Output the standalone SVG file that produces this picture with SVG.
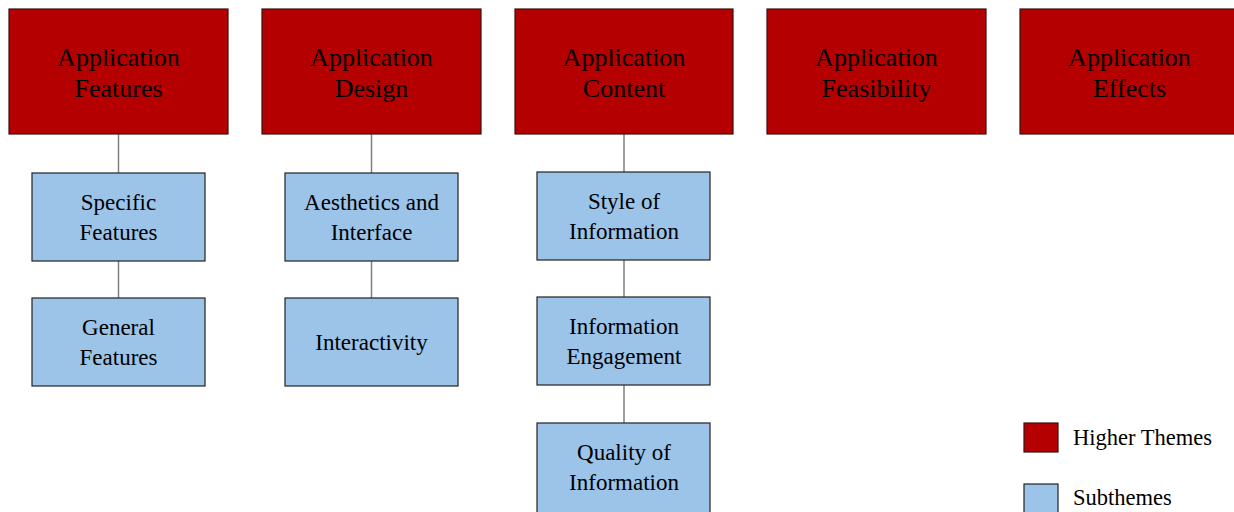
<svg xmlns="http://www.w3.org/2000/svg" width="1234" height="512" viewBox="0 0 1234 512">
<style>
.hi{fill:#b40000;stroke:#3a1010;stroke-width:1.2}
.sub{fill:#9cc3e8;stroke:#222;stroke-width:1.2}
.con{stroke:#808080;stroke-width:1.5;fill:none}
text{font-family:"Liberation Serif","Times New Roman",serif;fill:#000;text-anchor:middle}
.ht{font-size:26px}
.st{font-size:23px}
.lt{font-size:22.5px;text-anchor:start}
</style>
<rect width="1234" height="512" fill="#fff"/>
<g id="connectors">
<line class="con" x1="118.5" y1="134" x2="118.5" y2="173"/>
<line class="con" x1="118.5" y1="261" x2="118.5" y2="298"/>
<line class="con" x1="371.5" y1="134" x2="371.5" y2="173"/>
<line class="con" x1="371.5" y1="261" x2="371.5" y2="298"/>
<line class="con" x1="624" y1="134" x2="624" y2="172"/>
<line class="con" x1="624" y1="260" x2="624" y2="297"/>
<line class="con" x1="624" y1="385" x2="624" y2="423"/>
</g>
<g id="n-features"><rect class="hi" x="9" y="9" width="219" height="125"/><text class="ht" x="118.5" y="66">Application</text><text class="ht" x="118.5" y="97">Features</text></g>
<g id="n-design"><rect class="hi" x="262" y="9" width="219" height="125"/><text class="ht" x="371.5" y="66">Application</text><text class="ht" x="371.5" y="97">Design</text></g>
<g id="n-content"><rect class="hi" x="515" y="9" width="218" height="125"/><text class="ht" x="624" y="66">Application</text><text class="ht" x="624" y="97">Content</text></g>
<g id="n-feasibility"><rect class="hi" x="767" y="9" width="219" height="125"/><text class="ht" x="876.5" y="66">Application</text><text class="ht" x="876.5" y="97">Feasibility</text></g>
<g id="n-effects"><rect class="hi" x="1020" y="9" width="219" height="125"/><text class="ht" x="1129.5" y="66">Application</text><text class="ht" x="1129.5" y="97">Effects</text></g>
<g id="n-specific"><rect class="sub" x="32" y="173" width="173" height="88"/><text class="st" x="118.5" y="210">Specific</text><text class="st" x="118.5" y="240">Features</text></g>
<g id="n-general"><rect class="sub" x="32" y="298" width="173" height="88"/><text class="st" x="118.5" y="335">General</text><text class="st" x="118.5" y="365">Features</text></g>
<g id="n-aesthetics"><rect class="sub" x="285" y="173" width="173" height="88"/><text class="st" x="371.5" y="210">Aesthetics and</text><text class="st" x="371.5" y="240">Interface</text></g>
<g id="n-interactivity"><rect class="sub" x="285" y="298" width="173" height="88"/><text class="st" x="371.5" y="350">Interactivity</text></g>
<g id="n-style"><rect class="sub" x="537" y="172" width="173" height="88"/><text class="st" x="624" y="209">Style of</text><text class="st" x="624" y="239">Information</text></g>
<g id="n-engagement"><rect class="sub" x="537" y="297" width="173" height="88"/><text class="st" x="624" y="334">Information</text><text class="st" x="624" y="364">Engagement</text></g>
<g id="n-quality"><rect class="sub" x="537" y="423" width="173" height="92"/><text class="st" x="624" y="460">Quality of</text><text class="st" x="624" y="490">Information</text></g>
<g id="legend">
<rect class="hi" x="1024" y="423" width="34" height="29"/>
<text class="lt" x="1073" y="445">Higher Themes</text>
<rect class="sub" x="1024" y="484" width="34" height="30"/>
<text class="lt" x="1073" y="505">Subthemes</text>
</g>
</svg>
